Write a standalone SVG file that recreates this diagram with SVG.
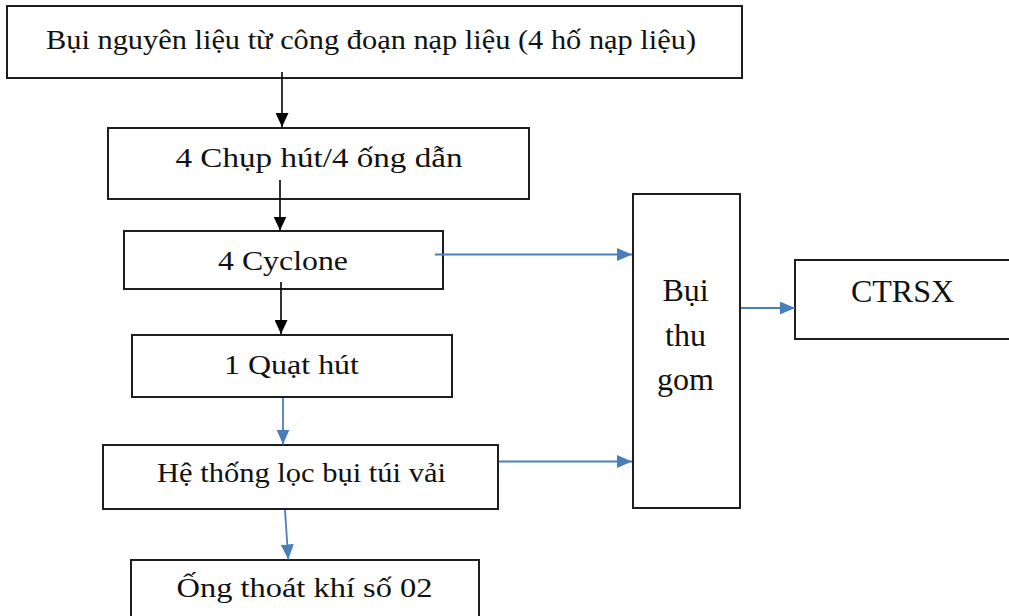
<svg xmlns="http://www.w3.org/2000/svg" width="1009" height="616" viewBox="0 0 1009 616">
<style>
.box{fill:#fff;stroke:#1e1e1e;stroke-width:2}
.t{font-family:"Liberation Serif","Times New Roman",serif;font-size:27px;fill:#111;text-anchor:middle}
.tb{font-family:"Liberation Serif","Times New Roman",serif;font-size:32px;fill:#111;text-anchor:middle}
.k{stroke:#000;stroke-width:1.6;fill:none}
.b{stroke:#4a7ebb;stroke-width:1.8;fill:none}
</style>
<defs>
<marker id="ak" markerUnits="userSpaceOnUse" markerWidth="14" markerHeight="13" refX="14" refY="6.5" orient="auto"><path d="M0,0 L14,6.5 L0,13 z" fill="#000"/></marker>
<marker id="ab" markerUnits="userSpaceOnUse" markerWidth="15" markerHeight="13" refX="15" refY="6.5" orient="auto"><path d="M0,0 L15,6.5 L0,13 z" fill="#4a7ebb"/></marker>
</defs>
<rect width="1009" height="616" fill="#fff"/>
<g id="n1"><rect class="box" x="7" y="6" width="735" height="72"/><text class="t" x="371" y="49" font-size="26" textLength="650" lengthAdjust="spacingAndGlyphs">Bụi nguyên liệu từ công đoạn nạp liệu (4 hố nạp liệu)</text></g>
<g id="n2"><rect class="box" x="108" y="128" width="421" height="71"/><text class="t" x="319" y="167" textLength="287" lengthAdjust="spacingAndGlyphs">4 Chụp hút/4 ống dẫn</text></g>
<g id="n3"><rect class="box" x="124" y="231" width="319" height="58"/><text class="t" x="283" y="269.5" textLength="130" lengthAdjust="spacingAndGlyphs">4 Cyclone</text></g>
<g id="n4"><rect class="box" x="132" y="335" width="320" height="62"/><text class="t" x="291.5" y="373.5" textLength="135" lengthAdjust="spacingAndGlyphs">1 Quạt hút</text></g>
<g id="n5"><rect class="box" x="103" y="445" width="395" height="64"/><text class="t" x="301.5" y="482" textLength="289" lengthAdjust="spacingAndGlyphs">Hệ thống lọc bụi túi vải</text></g>
<g id="n6"><rect class="box" x="131" y="560" width="348" height="80"/><text class="t" x="304.5" y="597" textLength="256" lengthAdjust="spacingAndGlyphs">Ống thoát khí số 02</text></g>
<g id="n7"><rect class="box" x="633" y="194" width="107" height="314"/><text class="tb" x="685.5" y="301">Bụi</text><text class="tb" x="685.5" y="346">thu</text><text class="tb" x="685.5" y="390">gom</text></g>
<g id="n8"><rect class="box" x="795" y="260" width="250" height="79"/><text class="tb" x="902.5" y="302">CTRSX</text></g>
<g id="connectors">
<line class="k" x1="282" y1="72" x2="282" y2="127" marker-end="url(#ak)"/>
<line class="k" x1="280" y1="180" x2="280" y2="230.5" marker-end="url(#ak)"/>
<line class="k" x1="281" y1="282" x2="281" y2="334" marker-end="url(#ak)"/>
<line class="b" x1="283" y1="398" x2="283" y2="444.5" marker-end="url(#ab)"/>
<line class="b" x1="285" y1="510" x2="288.3" y2="559.5" marker-end="url(#ab)"/>
<line class="b" x1="435" y1="254.5" x2="632" y2="254.5" marker-end="url(#ab)"/>
<line class="b" x1="499" y1="461.5" x2="632" y2="461.5" marker-end="url(#ab)"/>
<line class="b" x1="741" y1="308" x2="795" y2="308" marker-end="url(#ab)"/>
</g>
</svg>
